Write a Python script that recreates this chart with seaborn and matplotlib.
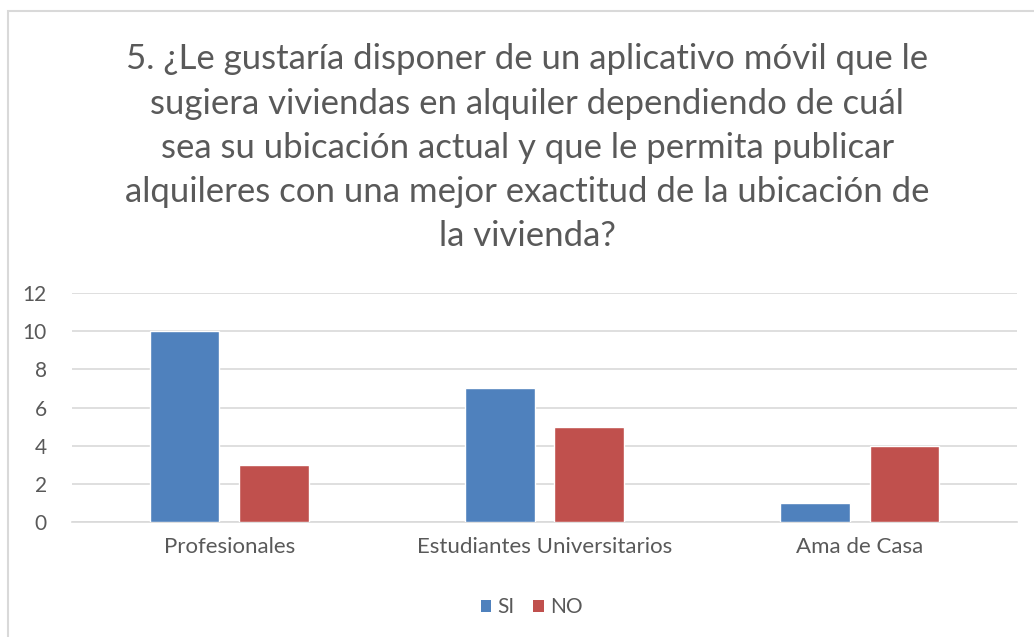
import matplotlib
matplotlib.use("Agg")
import matplotlib.pyplot as plt
from matplotlib.patches import Patch
import seaborn as sns
import pandas as pd

categories = ["Profesionales", "Estudiantes Universitarios", "Ama de Casa"]
si_values = [10, 7, 1]
no_values = [3, 5, 4]
series_names = ["SI", "NO"]
y_ticks = [0, 2, 4, 6, 8, 10, 12]
title = ("5. ¿Le gustaría disponer de un aplicativo móvil que le\n"
         "sugiera viviendas en alquiler dependiendo de cuál\n"
         "sea su ubicación actual y que le permita publicar\n"
         "alquileres con una mejor exactitud de la ubicación de\n"
         "la vivienda?")

df = pd.DataFrame({
    "Categoria": categories * 2,
    "Respuesta": [series_names[0]] * 3 + [series_names[1]] * 3,
    "Valor": si_values + no_values,
})

sns.set_theme(style="white")
plt.rcParams["font.family"] = ["Lato", "DejaVu Sans"]

text_color = "#595959"
grid_color = "#D9D9D9"
palette = {"SI": "#4F81BD", "NO": "#C0504D"}

fig = plt.figure(figsize=(10.34, 6.37), dpi=100)
ax = fig.add_axes([0.0696, 0.1805, 0.914, 0.3595])

sns.barplot(data=df, x="Categoria", y="Valor", hue="Respuesta",
            palette=palette, width=0.571, gap=0.222, saturation=1,
            ax=ax, legend=False, zorder=3)

ax.set_ylim(0, 12)
ax.set_xlim(-0.5, 2.5)
ax.set_yticks(y_ticks)
ax.set_yticklabels([str(t) for t in y_ticks], fontsize=15, color=text_color)
ax.set_xticks(range(len(categories)))
ax.set_xticklabels(categories, fontsize=16, color=text_color)
ax.tick_params(axis="both", length=0)
ax.tick_params(axis="x", pad=11)
ax.tick_params(axis="y", pad=18)
ax.set_xlabel("")
ax.set_ylabel("")
ax.yaxis.grid(True, color=grid_color, linewidth=1.2, zorder=0)
ax.set_axisbelow(True)
for s in ["top", "right", "left"]:
    ax.spines[s].set_visible(False)
ax.spines["bottom"].set_color(grid_color)
ax.spines["bottom"].set_linewidth(1.2)

fig.text(0.51, 0.932, title, ha="center", va="top", fontsize=25,
         color=text_color, linespacing=1.47)

# legend below the plot
handles = [Patch(facecolor=palette[n], edgecolor="none") for n in series_names]
fig.legend(handles, series_names, loc="center", bbox_to_anchor=(0.514, 0.047),
           ncol=2, frameon=False, fontsize=15, handlelength=0.5, handleheight=0.5,
           handletextpad=0.3, columnspacing=0.9, labelcolor=text_color)

# outer chart frame
frame = plt.Rectangle((0.008, -0.1), 1.2, 0.9827 + 0.1, transform=fig.transFigure,
                      fill=False, edgecolor="#D9D9D9", linewidth=1.5)
fig.add_artist(frame)

fig.savefig("out.png", dpi=100, facecolor="white")
